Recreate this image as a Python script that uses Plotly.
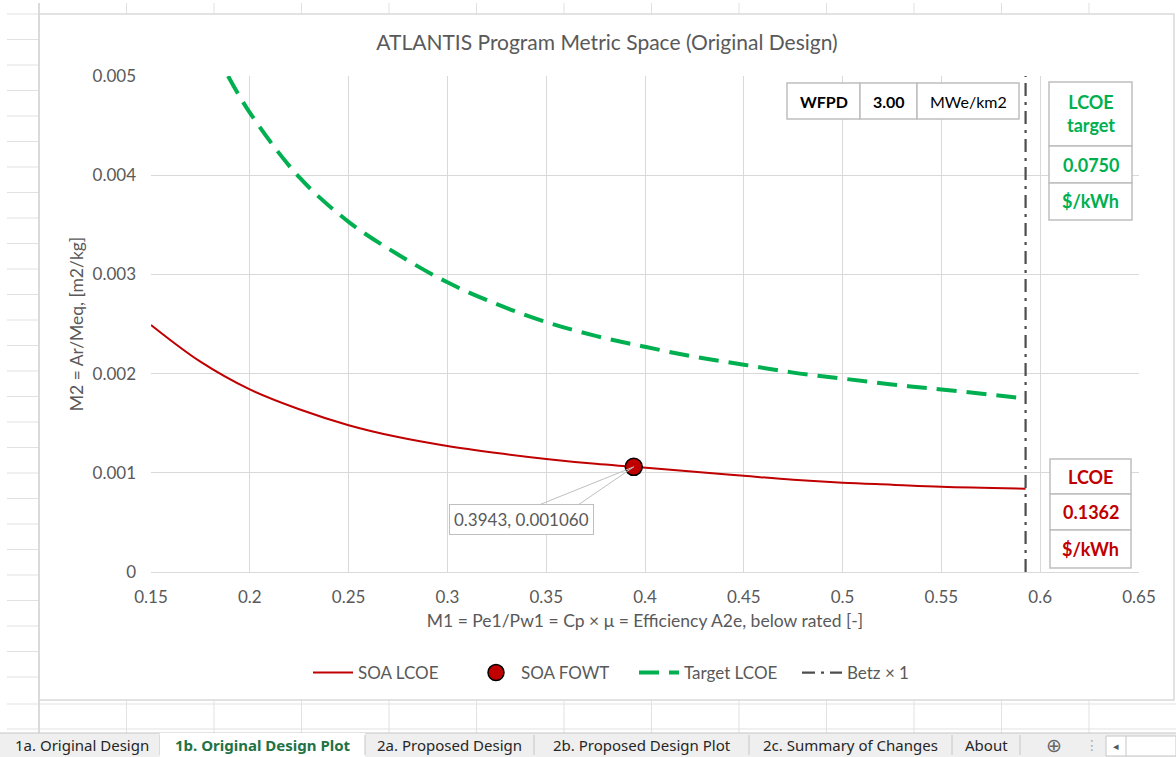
import plotly.graph_objects as go

W, H = 1176, 757

# ---------------- data ----------------
soa_x = [0.15, 0.175, 0.2, 0.225, 0.25, 0.275, 0.3, 0.325, 0.35, 0.375, 0.3943,
         0.425, 0.45, 0.475, 0.5, 0.525, 0.55, 0.5926]
soa_y = [0.00249, 0.00212, 0.00184, 0.00164, 0.00148, 0.00136, 0.00127, 0.00120,
         0.00114, 0.00109, 0.00106, 0.00101, 0.00097, 0.00093, 0.00090, 0.00088,
         0.00086, 0.00084]

fowt_x = [0.3943]
fowt_y = [0.001060]
fowt_label = "0.3943, 0.001060"

tgt_x = [0.189, 0.2, 0.225, 0.25, 0.275, 0.3, 0.325, 0.35, 0.375, 0.4, 0.425,
         0.45, 0.475, 0.5, 0.525, 0.55, 0.5926]
tgt_y = [0.0050, 0.00463, 0.00398, 0.00353, 0.00320, 0.00292, 0.00270, 0.00252,
         0.00238, 0.00227, 0.00217, 0.00209, 0.00201, 0.00195, 0.00189, 0.00184,
         0.00175]

betz_x = [0.5926, 0.5926]
betz_y = [0.0, 0.0050]

x_ticks = [0.15, 0.2, 0.25, 0.3, 0.35, 0.4, 0.45, 0.5, 0.55, 0.6, 0.65]
y_ticks = [0, 0.001, 0.002, 0.003, 0.004, 0.005]

wfpd_cells = ["WFPD", "3.00", "MWe/km2"]
lcoe_target_cells = ["LCOE<br>target", "0.0750", "$/kWh"]
lcoe_cells = ["LCOE", "0.1362", "$/kWh"]

sheet_tabs = ["1a. Original Design", "1b. Original Design Plot", "2a. Proposed Design",
              "2b. Proposed Design Plot", "2c. Summary of Changes", "About"]
active_tab = 1

# ---------------- helpers (pixel -> paper) ----------------
def fx(p):
    return p / W


def fy(p):
    return 1 - p / H


FONT = "Lato"
GREY = "#595959"
RED = "#C00000"
GREEN = "#00B050"
GRID = "#d9d9d9"

fig = go.Figure()

fig.add_trace(go.Scatter(x=soa_x, y=soa_y, mode="lines", name="SOA LCOE",
                         line=dict(color=RED, width=2, shape="spline")))
fig.add_trace(go.Scatter(x=fowt_x, y=fowt_y, mode="markers", name="SOA FOWT",
                         marker=dict(color=RED, size=17, line=dict(color="black", width=1.5))))
fig.add_trace(go.Scatter(x=tgt_x, y=tgt_y, mode="lines", name="Target LCOE",
                         line=dict(color=GREEN, width=4, dash="20px,10px", shape="spline")))
fig.add_trace(go.Scatter(x=betz_x, y=betz_y, mode="lines", name="Betz × 1",
                         line=dict(color="#4d4d4d", width=2.2, dash="13px,6px,3px,6px")))

shapes = []
annotations = []


def text(x, y, t, size, color, family=FONT, **kw):
    annotations.append(dict(xref="paper", yref="paper", x=fx(x), y=fy(y), text=t,
                            showarrow=False, xanchor="center", yanchor="middle",
                            font=dict(family=family, size=size, color=color), **kw))


# ---- spreadsheet background grid ----
col_xs = [39 + 87.5 * k for k in range(14)]
row_ys = [14 + 25.5 * k for k in range(27)]
for y in row_ys:
    if y < 700:
        shapes.append(dict(type="line", xref="paper", yref="paper", x0=fx(7), x1=fx(39),
                           y0=fy(y), y1=fy(y), line=dict(color="#e1e1e1", width=1), layer="below"))
for x in col_xs:
    shapes.append(dict(type="line", xref="paper", yref="paper", x0=fx(x), x1=fx(x),
                       y0=fy(3), y1=fy(14), line=dict(color="#e1e1e1", width=1), layer="below"))
    shapes.append(dict(type="line", xref="paper", yref="paper", x0=fx(x), x1=fx(x),
                       y0=fy(700), y1=fy(733), line=dict(color="#e1e1e1", width=1), layer="below"))
for y in [704, 729]:
    shapes.append(dict(type="line", xref="paper", yref="paper", x0=fx(7), x1=fx(1176),
                       y0=fy(y), y1=fy(y), line=dict(color="#e1e1e1", width=1), layer="below"))
shapes.append(dict(type="line", xref="paper", yref="paper", x0=fx(39), x1=fx(39),
                   y0=fy(3), y1=fy(733), line=dict(color="#d4d4d4", width=1.5), layer="below"))

# ---- chart area border ----
shapes.append(dict(type="rect", xref="paper", yref="paper", x0=fx(39), x1=fx(1174),
                   y0=fy(700), y1=fy(14), line=dict(color=GRID, width=1.5), layer="below"))

# ---- sheet tab bar ----
shapes.append(dict(type="rect", xref="paper", yref="paper", x0=0, x1=1, y0=0, y1=fy(733),
                   fillcolor="#efefef", line=dict(width=0), layer="below"))
shapes.append(dict(type="line", xref="paper", yref="paper", x0=0, x1=1, y0=fy(733), y1=fy(733),
                   line=dict(color="#c6c6c6", width=1), layer="below"))
tab_bounds = [(4, 160), (160, 365), (365, 534), (534, 749), (749, 952), (952, 1020)]
for i, (name, (a, b)) in enumerate(zip(sheet_tabs, tab_bounds)):
    if i == active_tab:
        shapes.append(dict(type="rect", xref="paper", yref="paper", x0=fx(a), x1=fx(b),
                           y0=0, y1=fy(733), fillcolor="white", line=dict(width=0), layer="below"))
    shapes.append(dict(type="line", xref="paper", yref="paper", x0=fx(b), x1=fx(b),
                       y0=fy(755), y1=fy(735), line=dict(color="#c6c6c6", width=1), layer="below"))
    text((a + b) / 2, 745, ("<b>%s</b>" % name) if i == active_tab else name, 15,
         "#217346" if i == active_tab else "#262626", family="Noto Sans")
text(1054, 745, "⊕", 19, "#666666", family="DejaVu Sans")
text(1092, 745, "⋮", 14, "#aaaaaa", family="DejaVu Sans")
shapes.append(dict(type="rect", xref="paper", yref="paper", x0=fx(1106), x1=fx(1176),
                   y0=fy(756), y1=fy(736), fillcolor="white", line=dict(color="#c6c6c6", width=1),
                   layer="below"))
shapes.append(dict(type="line", xref="paper", yref="paper", x0=fx(1126), x1=fx(1126),
                   y0=fy(756), y1=fy(736), line=dict(color="#c6c6c6", width=1), layer="below"))
text(1116, 746, "◂", 11, "#555555", family="DejaVu Sans")


# ---- info tables ----
def box(x0, x1, y0, y1):
    shapes.append(dict(type="rect", xref="paper", yref="paper", x0=fx(x0), x1=fx(x1),
                       y0=fy(y1), y1=fy(y0), fillcolor="white",
                       line=dict(color="#bfbfbf", width=1.5)))


def hcells(xs, y0, y1, cells, color, size, bold_flags):
    for a, b, t, bf in zip(xs[:-1], xs[1:], cells, bold_flags):
        box(a, b, y0, y1)
        text((a + b) / 2, (y0 + y1) / 2, ("<b>%s</b>" % t) if bf else t, size, color)


def vcells(x0, x1, ys, cells, color, size):
    for a, b, t in zip(ys[:-1], ys[1:], cells):
        box(x0, x1, a, b)
        text((x0 + x1) / 2, (a + b) / 2, "<b>%s</b>" % t.replace("<br>", "</b><br><b>"), size, color)


hcells([787, 860, 917, 1019], 83, 119, wfpd_cells, "#000000", 16, [True, True, False])
vcells(1049, 1132, [82, 146, 183, 220], lcoe_target_cells, GREEN, 18)
vcells(1050, 1131, [459, 494, 530, 568], lcoe_cells, RED, 18)

# ---- data label callout ----
for ax in (-97, -57):
    annotations.append(dict(x=fowt_x[0], y=fowt_y[0], xref="x", yref="y", ax=ax, ay=39,
                            text="", showarrow=True, arrowhead=0, arrowwidth=1,
                            arrowcolor="#bfbfbf", standoff=0))
annotations.append(dict(x=fowt_x[0], y=fowt_y[0], xref="x", yref="y", text=fowt_label,
                        showarrow=False, xshift=-112, yshift=-53, bgcolor="white",
                        xanchor="center", yanchor="middle",
                        bordercolor="#bfbfbf", borderwidth=1, borderpad=4,
                        font=dict(family=FONT, size=17, color=GREY)))

fig.update_layout(
    width=W, height=H,
    margin=dict(l=0, r=0, t=0, b=0, autoexpand=False),
    paper_bgcolor="white", plot_bgcolor="white",
    title=dict(text="ATLANTIS Program Metric Space (Original Design)",
               x=fx(607), y=fy(43), xanchor="center", yanchor="middle", automargin=False,
               font=dict(family=FONT, size=21, color=GREY)),
    xaxis=dict(domain=[fx(151), fx(1139)], range=[0.15, 0.65], tickvals=x_ticks,
               ticktext=[("%g" % v) for v in x_ticks], automargin=False,
               showgrid=True, gridcolor=GRID, gridwidth=1, zeroline=False,
               showline=True, linecolor=GRID, linewidth=1, mirror=False, ticks="",
               ticklabelstandoff=10,
               tickfont=dict(family=FONT, size=17, color=GREY),
               title=dict(text="M1 = Pe1/Pw1 = Cp × μ = Efficiency A2e, below rated [-]",
                          font=dict(family=FONT, size=17.5, color=GREY), standoff=8)),
    yaxis=dict(domain=[fy(572), fy(76)], range=[0, 0.005], tickvals=y_ticks,
               ticktext=[("%g" % v) for v in y_ticks], automargin=False,
               showgrid=True, gridcolor=GRID, gridwidth=1, zeroline=False,
               showline=False, ticks="", ticklabelstandoff=14,
               tickfont=dict(family=FONT, size=17, color=GREY),
               title=dict(text="M2 = Ar/Meq, [m2/kg]",
                          font=dict(family=FONT, size=17.5, color=GREY), standoff=4)),
    legend=dict(orientation="h", x=fx(634), y=fy(673), xanchor="center", yanchor="middle",
                font=dict(family=FONT, size=17, color=GREY), bgcolor="rgba(0,0,0,0)",
                itemwidth=40, tracegroupgap=0, entrywidth=108, entrywidthmode="pixels"),
    shapes=shapes,
    annotations=annotations,
    showlegend=True,
)

fig.write_html("out.html", config={"displayModeBar": False},
               post_script="document.body.style.margin='0';document.body.style.padding='0';")
